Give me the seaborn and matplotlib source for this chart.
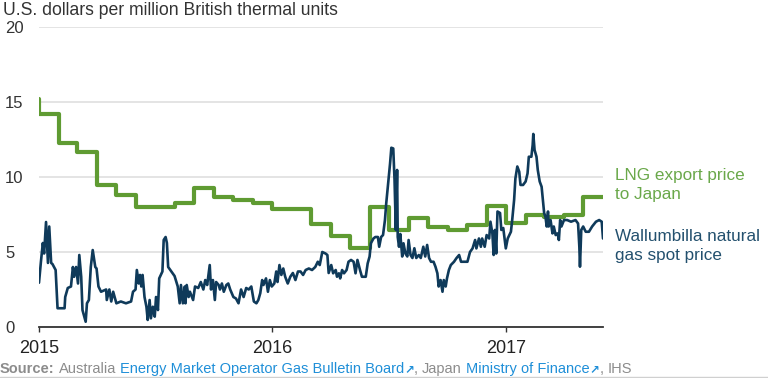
import matplotlib
matplotlib.use("Agg")
import matplotlib.pyplot as plt
from matplotlib import font_manager
from matplotlib.lines import Line2D
import seaborn as sns
import pandas as pd

# ---------------- data ----------------
# Wallumbilla natural gas spot price: days since 2015-01-01 and USD/MMBtu
spot_days = [0, 3, 6, 8, 11, 14, 16, 19, 21, 26, 29, 40, 41, 45, 50, 53, 55, 58, 61, 63,
             66, 68, 73, 75, 78, 81, 84, 88, 90, 93, 97, 105, 106, 110, 113, 116, 121, 128, 136, 144,
             147, 151, 153, 156, 158, 160, 162, 165, 168, 170, 173, 175, 178, 181, 183, 186, 188, 193, 195, 198,
             200, 202, 207, 212, 217, 220, 222, 225, 228,
             229, 231, 234, 236, 241, 244, 249, 253, 257, 260, 263, 267, 269, 272, 275, 277, 281, 283, 286, 289,
             293, 296, 299, 304, 308, 312, 316, 320, 324, 328, 332, 336, 340, 343, 346, 349, 351, 355, 358, 361,
             364, 368, 371, 373, 376, 379, 382, 385, 389, 393, 397, 401, 405, 409, 413, 417, 422, 427, 432, 436,
             439, 443, 448, 451, 453,
             457, 460, 464, 466, 469, 471, 474, 477, 481, 484, 488, 492, 495, 498, 502, 505, 511, 514, 517, 519,
             523, 526, 530, 532, 535, 538, 541, 543, 546, 549, 551, 554, 556, 558, 560, 561, 563, 565, 568, 570,
             573, 576, 578, 581, 584, 587, 590, 594, 597, 601, 604, 607, 610, 613, 617, 620, 623, 625, 628, 631,
             633, 636, 638, 641, 644, 649, 653, 657, 660, 664, 670, 674,
             678, 682, 684, 688, 691, 693, 697, 700, 704, 706, 709, 711, 713, 715, 717, 721, 723, 726, 730, 733,
             738, 740, 743, 745, 748, 751, 753, 757, 761, 764, 766, 770, 772, 773, 775, 778, 780, 783, 786, 788,
             790, 792, 794, 796, 797, 800, 803, 805, 808, 811, 813, 815, 817, 821, 826, 832, 839, 843, 845, 846,
             848, 851, 855, 860, 865, 871, 876, 880, 882]
spot_usd = [2.95, 4.35, 5.6, 4.9, 7.0, 4.27, 6.7, 4.27, 4.2, 3.8, 1.25, 1.25, 2.0, 2.6, 2.7, 4.0, 3.35, 4.0, 2.9, 4.8,
            3.35, 1.13, 0.35, 1.58, 1.8, 4.0, 5.13, 4.0, 3.9, 2.7, 2.35, 2.5, 1.8, 2.5, 1.7, 2.35, 1.58, 1.7, 1.58, 1.7,
            2.35, 2.5, 3.8, 2.9, 3.47, 2.7, 3.47, 2.0, 1.35, 0.47, 1.8, 0.58, 1.35, 0.69, 2.0, 1.13, 3.24, 3.7, 5.8, 6.0,
            5.6, 4.0, 3.7, 3.4, 2.7, 1.58, 2.8, 1.58, 2.7,
            1.58, 2.8, 2.0, 2.35, 1.8, 2.7, 2.6, 3.0, 2.5, 3.13, 2.8, 4.13, 2.5, 3.13, 1.8, 3.0, 2.8, 2.5, 2.9, 2.35,
            2.8, 2.9, 2.5, 2.0, 1.9, 1.58, 2.5, 2.0, 2.6, 2.5, 2.7, 1.7, 1.58, 1.8, 2.25, 3.13, 2.8, 3.24, 2.35, 3.13,
            2.7, 2.9, 3.7, 3.0, 4.13, 3.47, 3.9, 3.35, 2.9, 3.35, 3.6, 3.13, 3.7, 3.7, 3.47, 3.8, 3.9, 3.8, 4.0, 4.35,
            4.13, 5.0, 4.9, 4.8, 3.6,
            4.13, 3.58, 3.8, 3.35, 3.58, 3.24, 3.8, 3.58, 3.8, 4.35, 4.47, 4.35, 3.58, 4.47, 3.8, 3.35, 3.35, 4.24, 4.7, 5.58,
            5.9, 6.0, 6.0, 5.35, 6.0, 6.13, 7.13, 8.24, 9.58, 10.9, 11.95, 11.9, 9.8, 6.47, 10.47, 6.0, 5.35, 6.2, 4.7, 5.58,
            4.9, 4.7, 5.8, 4.8, 4.6, 5.25, 4.6, 4.8, 4.6, 5.35, 4.7, 5.47, 4.6, 4.35, 4.35, 4.02, 3.58, 2.7, 3.13, 2.35,
            3.13, 2.7, 3.24, 3.8, 4.13, 4.35, 4.6, 4.8, 4.35, 4.35, 4.35, 5.0,
            5.24, 5.8, 5.24, 5.9, 5.35, 5.9, 5.35, 6.13, 5.9, 7.02, 6.24, 4.8, 6.47, 4.9, 7.7, 7.6, 6.47, 6.6, 5.24, 5.9,
            6.35, 7.13, 8.47, 9.9, 10.7, 10.35, 9.47, 9.47, 9.7, 10.24, 11.35, 11.35, 12.13, 12.87, 11.8, 11.35, 10.47, 9.7, 9.35, 8.47,
            7.58, 7.35, 6.7, 7.7, 6.7, 7.13, 6.24, 6.7, 6.13, 6.24, 5.8, 7.13, 6.7, 7.13, 7.13, 7.02, 7.13, 6.9, 5.35, 4.02,
            6.47, 6.7, 6.35, 6.35, 6.7, 7.02, 7.13, 7.02, 5.9]

# LNG export price to Japan, monthly (step line)
lng_months = ["2014-12",
              "2015-01", "2015-02", "2015-03", "2015-04", "2015-05", "2015-06",
              "2015-07", "2015-08", "2015-09", "2015-10", "2015-11", "2015-12",
              "2016-01", "2016-02", "2016-03", "2016-04", "2016-05", "2016-06",
              "2016-07", "2016-08", "2016-09", "2016-10", "2016-11", "2016-12",
              "2017-01", "2017-02", "2017-03", "2017-04", "2017-05"]
lng_usd = [15.2,
           14.2, 12.3, 11.7, 9.5, 8.8, 8.0,
           8.0, 8.3, 9.3, 8.65, 8.5, 8.25,
           7.9, 7.9, 6.9, 6.1, 5.3, 8.0,
           6.45, 7.3, 6.65, 6.5, 6.8, 8.05,
           6.95, 7.5, 7.35, 7.5, 8.7]

year_ticks = ["2015-01-01", "2016-01-01", "2017-01-01"]
year_labels = ["2015", "2016", "2017"]
y_ticks = [0, 5, 10, 15, 20]

title_text = "U.S. dollars per million British thermal units"
lng_label = ["LNG export price", "to Japan"]
spot_label = ["Wallumbilla natural", "gas spot price"]

# ---------------- style ----------------
GREEN = "#5f9b32"
GREEN_TXT = "#6aa84a"
NAVY = "#0f3a5a"
NAVY_TXT = "#23506e"
GRAY = "#8c8c8c"
BLUE = "#1f8fd8"
DARK = "#333333"

sns.set_theme(style="white")
plt.rcParams["font.family"] = ["Liberation Sans", "DejaVu Sans"]


def has_font(name):
    try:
        font_manager.findfont(name, fallback_to_default=False)
        return True
    except Exception:
        return False


NARROW = "Liberation Sans Narrow" if has_font("Liberation Sans Narrow") else "Liberation Sans"
narrow_ok = NARROW == "Liberation Sans Narrow"

W, H = 768, 378
fig = plt.figure(figsize=(W / 100, H / 100), dpi=100)
ax = fig.add_axes([39 / W, 51 / H, 564 / W, 300 / H])

base = pd.Timestamp("2015-01-01")
x_end = pd.Timestamp("2017-06-01")

spot_df = pd.DataFrame({"date": base + pd.to_timedelta(spot_days, unit="D"),
                        "price": spot_usd})
lng_dates = list(pd.to_datetime(lng_months))
lng_df = pd.DataFrame({"date": lng_dates + [x_end + pd.Timedelta(days=2)],
                       "price": lng_usd + [lng_usd[-1]]})

sns.lineplot(data=lng_df, x="date", y="price", ax=ax, color=GREEN, linewidth=3.0,
             drawstyle="steps-post", estimator=None, zorder=3)
sns.lineplot(data=spot_df, x="date", y="price", ax=ax, color=NAVY, linewidth=1.9,
             estimator=None, zorder=4)

ax.set_xlim(base, x_end)
ax.set_ylim(0, 20)
ax.set_xlabel("")
ax.set_ylabel("")

# grid / spines
ax.set_yticks(y_ticks)
ax.grid(axis="y", color="#dcdcdc", linewidth=1.1)
ax.grid(axis="x", visible=False)
for s in ["top", "right", "left"]:
    ax.spines[s].set_visible(False)
ax.spines["bottom"].set_color(DARK)
ax.spines["bottom"].set_linewidth(1.3)
ax.spines["bottom"].set_zorder(5)

ax.tick_params(axis="y", length=0, pad=24.5, labelsize=12, labelcolor=DARK)
for lbl in ax.get_yticklabels():
    lbl.set_ha("left")

ax.set_xticks(pd.to_datetime(year_ticks))
ax.set_xticklabels(year_labels)
ax.tick_params(axis="x", length=3.6, width=1.0, color=DARK, pad=6.0,
               labelsize=15 if narrow_ok else 13, labelcolor="#222222", bottom=True)
for lbl in ax.get_xticklabels():
    lbl.set_fontfamily([NARROW, "DejaVu Sans"])

# title (axis unit)
fig.text(3 / W, 1 - 15 / H, title_text, fontsize=12.7, color=DARK, va="baseline", ha="left")

# direct labels
for i, line in enumerate(lng_label):
    fig.text(615 / W, 1 - (180 + 19.5 * i) / H, line, fontsize=12.3, color=GREEN_TXT,
             va="baseline", ha="left")
for i, line in enumerate(spot_label):
    fig.text(615 / W, 1 - (241 + 19 * i) / H, line, fontsize=12.3, color=NAVY_TXT,
             va="baseline", ha="left")

# source line
fig.canvas.draw()
renderer = fig.canvas.get_renderer()
src_size = 12 if narrow_ok else 10.5
pieces = [("Source:", GRAY, "bold", 4), ("Australia", GRAY, "normal", 4),
          ("Energy Market Operator Gas Bulletin Board", BLUE, "normal", 0),
          ("\u2197", BLUE, "bold", 0), (",", GRAY, "normal", 4), ("Japan", GRAY, "normal", 4),
          ("Ministry of Finance", BLUE, "normal", 0), ("\u2197", BLUE, "bold", 0),
          (",", GRAY, "normal", 4), ("IHS", GRAY, "normal", 0)]
xpos = 0.0
for text, col, wt, gap in pieces:
    fam = ["DejaVu Sans"] if text == "\u2197" else [NARROW, "DejaVu Sans"]
    t = fig.text(xpos / W, 1 - 373 / H, text, fontsize=src_size if text != "\u2197" else 8.5,
                 color=col, weight=wt, family=fam, va="baseline", ha="left")
    bb = t.get_window_extent(renderer)
    xpos = bb.x1 + gap

fig.add_artist(Line2D([0, 1], [1 - 376.5 / H, 1 - 376.5 / H], transform=fig.transFigure,
                      color="#d0d0d0", linewidth=1.0))

fig.savefig("out.png", dpi=100)
